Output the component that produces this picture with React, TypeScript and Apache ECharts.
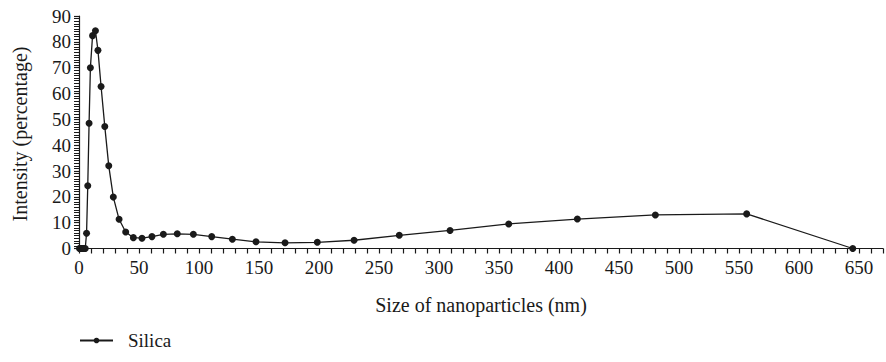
import React, { useEffect, useRef } from "react";
import * as echarts from "echarts";

// Size of nanoparticles (nm)
const sizes = [
  0.4, 0.9, 1.5, 2.1, 2.8, 3.5, 4.3, 5.2,
  6.3, 7.3, 8.4, 9.5, 11.3, 13.7, 15.8, 18.4, 21.5, 24.8, 28.6, 33.4, 38.9,
  45.3, 52.5, 60.8, 70.3, 81.9, 95.3, 110.6, 127.8, 147.5, 171.7, 198.6,
  229.2, 266.9, 309.2, 358.1, 415.3, 480.3, 556.4, 644.8,
];
// Intensity (percentage)
const intensity = [
  0, 0, 0, 0, 0, 0, 0, 0,
  5.9, 24.3, 48.5, 70.0, 82.4, 84.3, 76.7, 62.7, 47.2, 32.0, 19.9, 11.3, 6.4,
  4.2, 4.0, 4.6, 5.5, 5.7, 5.5, 4.6, 3.6, 2.6, 2.2, 2.4,
  3.2, 5.1, 7.0, 9.5, 11.4, 13.0, 13.4, 0,
];
const seriesName = "Silica";
const xTitle = "Size of nanoparticles (nm)";
const yTitle = "Intensity (percentage)";

const FONT = "'Liberation Serif', 'Times New Roman', serif";
const INK = "#1a1a1a";

export default function App() {
  const ref = useRef<HTMLDivElement>(null);
  useEffect(() => {
    if (!ref.current) return;
    const chart = echarts.init(ref.current, undefined, { renderer: "svg" });
    const data = sizes.map((s, i) => [s, intensity[i]]);
    chart.setOption({
      animation: false,
      backgroundColor: "#ffffff",
      textStyle: { fontFamily: FONT, color: INK },
      grid: { left: 79, top: 16, width: 804, height: 232.5, containLabel: false },
      graphic: [
        {
          type: "text",
          x: 20,
          y: 134,
          rotation: Math.PI / 2,
          style: {
            text: yTitle,
            fontFamily: FONT,
            fontSize: 20,
            fill: INK,
            textAlign: "center",
            textVerticalAlign: "middle",
          },
        },
      ],
      legend: {
        left: 79,
        top: 331,
        padding: 0,
        itemWidth: 33,
        itemHeight: 7,
        data: [seriesName],
        textStyle: { fontFamily: FONT, fontSize: 19, color: INK, padding: [0, 0, 0, 10] },
      },
      xAxis: {
        type: "value",
        min: 0,
        max: 670,
        interval: 50,
        name: xTitle,
        nameLocation: "middle",
        nameGap: 46,
        nameTextStyle: { fontFamily: FONT, fontSize: 20, color: INK },
        axisLine: { show: true, onZero: false, lineStyle: { color: INK, width: 1.2 } },
        axisTick: { show: true, length: 5, lineStyle: { color: INK, width: 1.2 } },
        minorTick: { show: true, splitNumber: 5, length: 5, lineStyle: { color: INK, width: 1.2 } },
        axisLabel: {
          fontFamily: FONT,
          fontSize: 19,
          color: INK,
          margin: 9,
          showMaxLabel: false,
          formatter: (v: number) => (v <= 650 ? String(v) : ""),
        },
        splitLine: { show: false },
        minorSplitLine: { show: false },
      },
      yAxis: {
        type: "value",
        min: 0,
        max: 90,
        interval: 10,
        axisLine: { show: true, lineStyle: { color: INK, width: 1.2 } },
        axisTick: { show: true, length: 5, lineStyle: { color: INK, width: 1.2 } },
        minorTick: { show: true, splitNumber: 10, length: 5, lineStyle: { color: INK, width: 1 } },
        axisLabel: { fontFamily: FONT, fontSize: 19, color: INK, margin: 8 },
        splitLine: { show: false },
        minorSplitLine: { show: false },
      },
      series: [
        {
          name: seriesName,
          type: "line",
          data,
          symbol: "circle",
          symbolSize: 7,
          showSymbol: true,
          lineStyle: { color: INK, width: 1.3 },
          itemStyle: { color: INK },
          clip: false,
        },
      ],
    });
    return () => chart.dispose();
  }, []);
  return (
    <div
      ref={ref}
      style={{ position: "fixed", left: 0, top: 0, width: 886, height: 362, background: "#fff" }}
    />
  );
}
